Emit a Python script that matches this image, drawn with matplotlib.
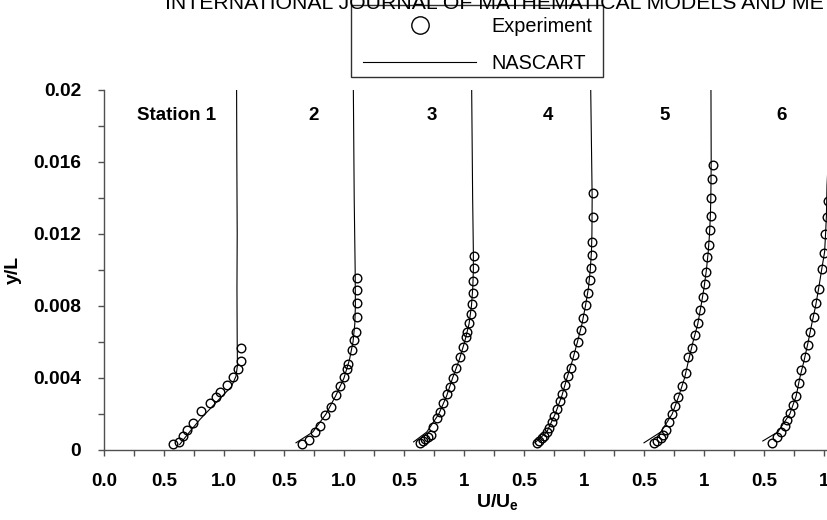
import matplotlib
matplotlib.use("Agg")
import matplotlib.pyplot as plt
from matplotlib.lines import Line2D
from matplotlib.patches import Rectangle
from matplotlib.ticker import FixedLocator, FixedFormatter

plt.rcParams['font.family'] = ['Liberation Sans', 'DejaVu Sans']
plt.rcParams['mathtext.fontset'] = 'custom'
plt.rcParams['mathtext.rm'] = 'Liberation Sans'
plt.rcParams['mathtext.bf'] = 'Liberation Sans:bold'
plt.rcParams['mathtext.it'] = 'Liberation Sans:italic'

# ---- data (U/Ue, y/L) ----
station_labels = ["Station 1", "2", "3", "4", "5", "6"]
station_offsets = [0.0, 1.0, 2.0, 3.0, 4.0, 5.0]

exp1_u = [0.578, 0.625, 0.656, 0.689, 0.739, 0.806, 0.883, 0.933, 0.967, 1.028, 1.078, 1.119, 1.139, 1.144]
exp1_y = [0.00033, 0.00046, 0.00080, 0.00111, 0.00152, 0.00215, 0.00261, 0.00296, 0.00320, 0.00361, 0.00407, 0.00448, 0.00496, 0.00567]
cfd1_u = [0.63, 0.70, 0.80, 0.90, 1.00, 1.06, 1.10, 1.112, 1.11, 1.108, 1.11, 1.107, 1.105]
cfd1_y = [0.0003, 0.0009, 0.0017, 0.0024, 0.0031, 0.0035, 0.0041, 0.0047, 0.006, 0.009, 0.012, 0.016, 0.020]

exp2_u = [0.647, 0.706, 0.758, 0.800, 0.844, 0.889, 0.933, 0.969, 1.003, 1.022, 1.036, 1.069, 1.086, 1.100, 1.111, 1.111, 1.111, 1.111]
exp2_y = [0.00033, 0.00056, 0.00098, 0.00135, 0.00193, 0.00237, 0.00307, 0.00356, 0.00404, 0.00450, 0.00478, 0.00557, 0.00611, 0.00654, 0.00737, 0.00815, 0.00889, 0.00954]
cfd2_u = [0.60, 0.74, 0.85, 0.93, 1.00, 1.045, 1.075, 1.09, 1.095, 1.093, 1.085, 1.078]
cfd2_y = [0.0004, 0.001, 0.002, 0.003, 0.004, 0.005, 0.006, 0.007, 0.008, 0.010, 0.014, 0.020]

exp3_u = [0.633, 0.656, 0.678, 0.700, 0.722, 0.744, 0.772, 0.800, 0.828, 0.861, 0.883, 0.906, 0.933, 0.967, 0.989, 1.017, 1.028, 1.044, 1.056, 1.064, 1.072, 1.078, 1.083, 1.083]
exp3_y = [0.00037, 0.00050, 0.00059, 0.00070, 0.00083, 0.00130, 0.00176, 0.00213, 0.00259, 0.00311, 0.00352, 0.00402, 0.00454, 0.00515, 0.00570, 0.00630, 0.00657, 0.00704, 0.00756, 0.00811, 0.00874, 0.00940, 0.01011, 0.01078]
cfd3_u = [0.58, 0.69, 0.79, 0.855, 0.905, 0.96, 1.005, 1.042, 1.062, 1.073, 1.078, 1.078, 1.072, 1.064]
cfd3_y = [0.00045, 0.001, 0.002, 0.003, 0.004, 0.005, 0.006, 0.007, 0.008, 0.009, 0.010, 0.011, 0.014, 0.020]

exp4_u = [0.606, 0.625, 0.647, 0.669, 0.689, 0.708, 0.736, 0.753, 0.772, 0.800, 0.819, 0.842, 0.864, 0.892, 0.919, 0.947, 0.975, 0.994, 1.014, 1.031, 1.050, 1.058, 1.069, 1.069, 1.078, 1.078]
exp4_y = [0.00037, 0.00050, 0.00065, 0.00080, 0.00098, 0.00120, 0.00157, 0.00190, 0.00226, 0.00272, 0.00309, 0.00361, 0.00413, 0.00457, 0.00528, 0.00602, 0.00667, 0.00731, 0.00806, 0.00870, 0.00944, 0.01009, 0.01083, 0.01157, 0.01296, 0.01426]
cfd4_u = [0.59, 0.69, 0.76, 0.815, 0.858, 0.905, 0.945, 0.983, 1.012, 1.037, 1.052, 1.062, 1.066, 1.068, 1.056]
cfd4_y = [0.0004, 0.001, 0.002, 0.003, 0.004, 0.005, 0.006, 0.007, 0.008, 0.009, 0.010, 0.011, 0.012, 0.014, 0.020]

exp5_u = [0.583, 0.611, 0.639, 0.661, 0.683, 0.711, 0.731, 0.758, 0.786, 0.814, 0.850, 0.869, 0.897, 0.925, 0.953, 0.967, 0.989, 1.008, 1.017, 1.028, 1.044, 1.050, 1.056, 1.056, 1.064, 1.072]
exp5_y = [0.00037, 0.00052, 0.00065, 0.00083, 0.00111, 0.00157, 0.00200, 0.00244, 0.00293, 0.00356, 0.00426, 0.00515, 0.00565, 0.00639, 0.00707, 0.00778, 0.00852, 0.00922, 0.00991, 0.01070, 0.01139, 0.01222, 0.01300, 0.01398, 0.01504, 0.01583]
cfd5_u = [0.50, 0.64, 0.735, 0.79, 0.838, 0.872, 0.908, 0.948, 0.975, 1.000, 1.020, 1.035, 1.046, 1.053, 1.057, 1.060, 1.058]
cfd5_y = [0.0004, 0.001, 0.002, 0.003, 0.004, 0.005, 0.006, 0.007, 0.008, 0.009, 0.010, 0.011, 0.012, 0.013, 0.014, 0.016, 0.020]

exp6_u = [0.567, 0.611, 0.644, 0.672, 0.694, 0.714, 0.742, 0.769, 0.789, 0.811, 0.844, 0.867, 0.883, 0.917, 0.936, 0.956, 0.983, 1.000, 1.011, 1.028, 1.033]
exp6_y = [0.00041, 0.00070, 0.00102, 0.00133, 0.00167, 0.00204, 0.00250, 0.00300, 0.00374, 0.00444, 0.00515, 0.00583, 0.00657, 0.00741, 0.00815, 0.00893, 0.01004, 0.01096, 0.01200, 0.01296, 0.01385]
cfd6_u = [0.49, 0.615, 0.715, 0.768, 0.798, 0.835, 0.868, 0.898, 0.930, 0.956, 0.980, 1.005, 1.013, 1.020, 1.025, 1.035, 1.048, 1.055]
cfd6_y = [0.0005, 0.001, 0.002, 0.003, 0.004, 0.005, 0.006, 0.007, 0.008, 0.009, 0.010, 0.011, 0.012, 0.013, 0.0147, 0.016, 0.018, 0.020]

exp_u = [exp1_u, exp2_u, exp3_u, exp4_u, exp5_u, exp6_u]
exp_y = [exp1_y, exp2_y, exp3_y, exp4_y, exp5_y, exp6_y]
cfd_u = [cfd1_u, cfd2_u, cfd3_u, cfd4_u, cfd5_u, cfd6_u]
cfd_y = [cfd1_y, cfd2_y, cfd3_y, cfd4_y, cfd5_y, cfd6_y]

x_tick_pos = [0.0, 0.5, 1.0, 1.5, 2.0, 2.5, 3.0, 3.5, 4.0, 4.5, 5.0, 5.5, 6.0, 6.5]
x_tick_labels = ["0.0", "0.5", "1.0", "0.5", "1.0", "0.5", "1", "0.5", "1", "0.5", "1", "0.5", "1", "0.5"]
y_tick_pos = [0.0, 0.004, 0.008, 0.012, 0.016, 0.020]
y_tick_labels = ["0", "0.004", "0.008", "0.012", "0.016", "0.02"]

# ---- figure ----
W, H = 828, 520
fig = plt.figure(figsize=(W / 100, H / 100), dpi=100)
ax_left, ax_right, ax_top, ax_bot = 104, 890, 90, 450
ax = fig.add_axes([ax_left / W, 1 - ax_bot / H, (ax_right - ax_left) / W, (ax_bot - ax_top) / H])
ax.set_xlim(0, 6.55)
ax.set_ylim(0, 0.02)

for k in range(6):
    off = station_offsets[k]
    ax.plot([u + off for u in cfd_u[k]], cfd_y[k], color='black', lw=0.8, zorder=2)
    ax.plot([u + off for u in exp_u[k]], exp_y[k], ls='none', marker='o', ms=6.2,
            mfc='none', mec='black', mew=1.0, zorder=3, clip_on=False)

label_x = [0.608, 1.75, 2.733, 3.70, 4.675, 5.65]
for k in range(6):
    ax.text(label_x[k], 0.0186, station_labels[k], ha='center', va='center',
            fontsize=13.5, fontweight='bold')

spine_color = '#505050'
for s in ['top', 'right']:
    ax.spines[s].set_visible(False)
for s in ['left', 'bottom']:
    ax.spines[s].set_color(spine_color)
    ax.spines[s].set_linewidth(1.0)

ax.xaxis.set_major_locator(FixedLocator(x_tick_pos))
ax.xaxis.set_major_formatter(FixedFormatter(x_tick_labels))
ax.xaxis.set_minor_locator(FixedLocator([p + 0.25 for p in x_tick_pos]))
ax.yaxis.set_major_locator(FixedLocator(y_tick_pos))
ax.yaxis.set_major_formatter(FixedFormatter(y_tick_labels))
ax.yaxis.set_minor_locator(FixedLocator([0.002, 0.006, 0.010, 0.014, 0.018]))
ax.tick_params(axis='both', which='both', direction='out', length=4.5, width=1.0, color=spine_color)
ax.tick_params(axis='x', which='major', pad=12, labelsize=13.5)
ax.tick_params(axis='y', which='major', pad=12, labelsize=13.8)
for lab in ax.get_xticklabels() + ax.get_yticklabels():
    lab.set_fontweight('bold')

ax.set_ylabel('y/L', fontsize=14, fontweight='bold')
ax.yaxis.set_label_coords(-(104 - 22) / (ax_right - ax_left), 0.5)
ax.set_xlabel(r'$\mathbf{U/U_e}$', fontsize=14)
ax.xaxis.set_label_coords(0.5, -(502 - 450) / (ax_bot - ax_top))
ax.xaxis.label.set_va('center')

# header text (cropped in the source image)
fig.text(165 / W, 1 - 9 / H, "INTERNATIONAL JOURNAL OF MATHEMATICAL MODELS AND METHODS IN APPLIED SCIENCES",
         fontsize=15.3, va='baseline', ha='left', zorder=6)

# legend box drawn explicitly, legend entries without frame
box = Rectangle((351 / W, 1 - 77 / H), (603 - 351) / W, (77 - 5) / H, transform=fig.transFigure,
                facecolor='white', edgecolor='#303030', linewidth=1.0, zorder=4)
fig.patches.append(box)
handles = [Line2D([], [], ls='none', marker='o', ms=12.5, mfc='none', mec='black', mew=1.0),
           Line2D([], [], color='black', lw=0.8)]
leg = fig.legend(handles, ["Experiment", "NASCART"], loc='upper left',
                 bbox_to_anchor=(351 / W, 1 - 5 / H), fontsize=14.3, frameon=False,
                 handlelength=5.7, handletextpad=0.75,
                 borderpad=0.6, labelspacing=0.93, borderaxespad=0)
leg.set_zorder(5)

fig.savefig('out.png', dpi=100)
